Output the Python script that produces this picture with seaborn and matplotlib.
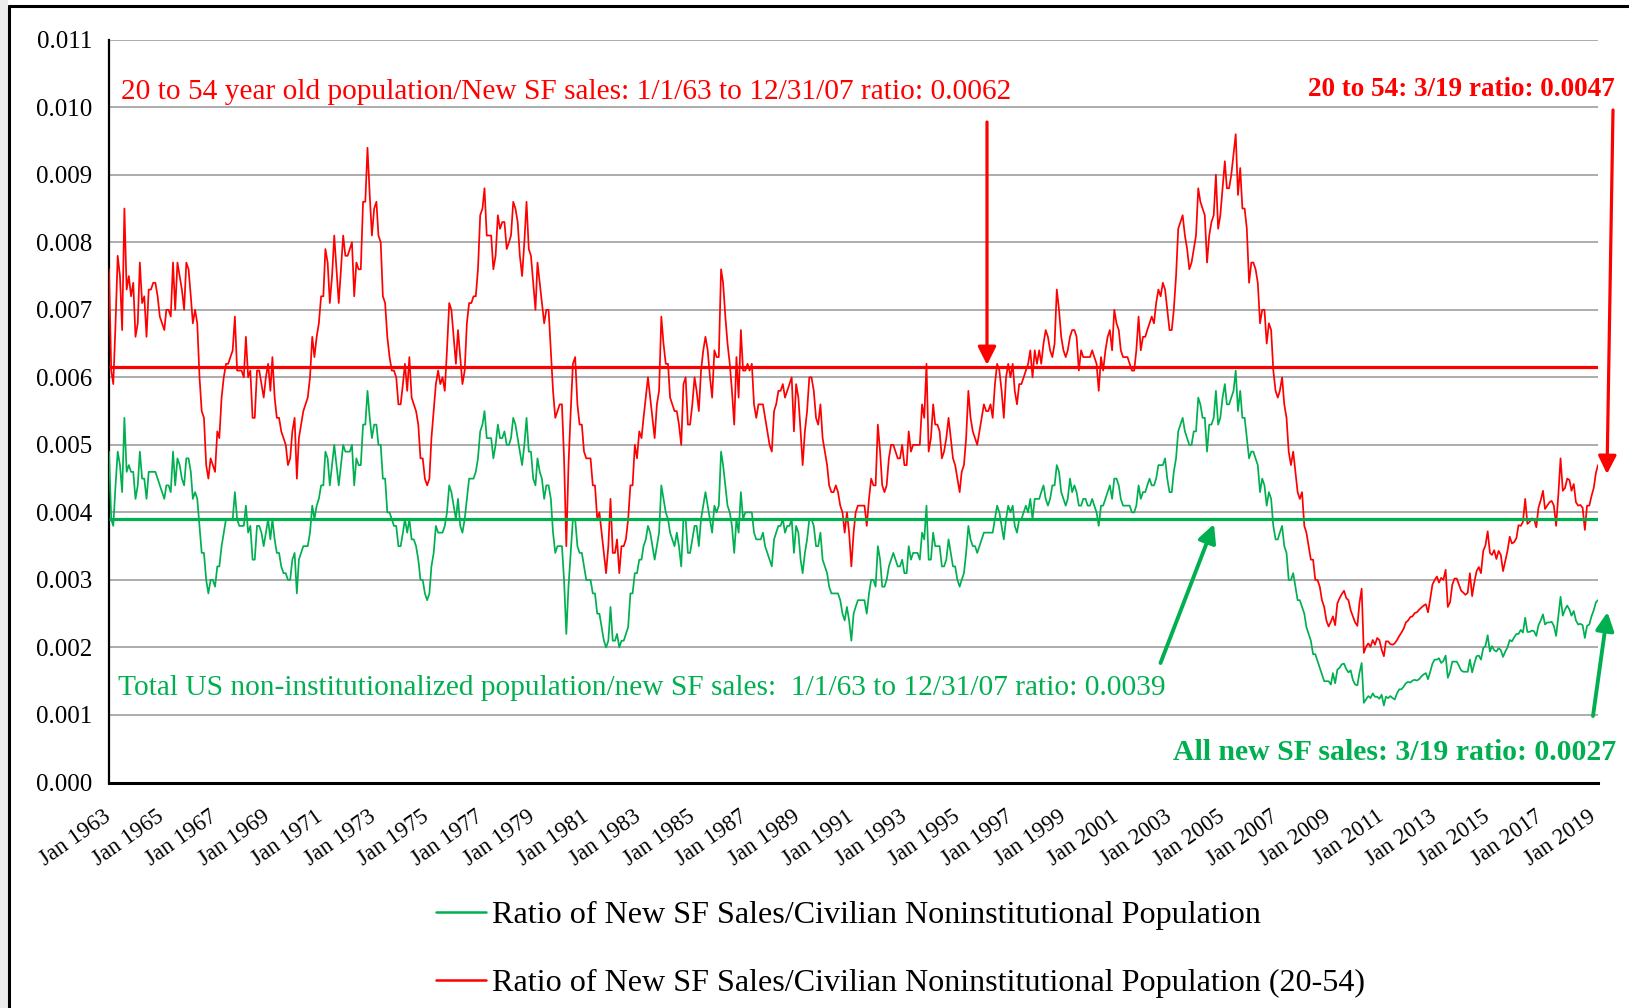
import numpy as np
import pandas as pd
import matplotlib
matplotlib.use("Agg")
import matplotlib.pyplot as plt
from matplotlib.lines import Line2D
from matplotlib.patches import Rectangle, FancyArrowPatch
import seaborn as sns

W, H, DPI = 1629, 1008, 100
RED = "#FF0000"
GREEN = "#00B050"

# Monthly ratio of new single-family sales to population, in units of 0.0001,
# January 1963 through March 2019 (one row per year).
red_e4 = [
    76, 61, 59, 68, 78, 75, 67, 85, 73, 75, 72, 74,   # 1963
    66, 68, 77, 71, 72, 66, 73, 73, 74, 74, 72, 69,   # 1964
    68, 67, 70, 70, 69, 77, 70, 77, 75, 73, 70, 77,   # 1965
    76, 72, 68, 70, 68, 60, 55, 54, 47, 45, 48, 47,   # 1966
    46, 52, 51, 57, 60, 62, 62, 63, 64, 69, 61, 61,   # 1967
    61, 60, 66, 60, 61, 54, 54, 61, 61, 59, 57, 60,   # 1968
    62, 58, 63, 57, 54, 54, 52, 51, 50, 47, 48, 52,   # 1969
    54, 45, 51, 53, 55, 56, 57, 60, 66, 63, 66, 68,   # 1970
    72, 72, 79, 77, 71, 75, 81, 76, 71, 76, 81, 78,   # 1971
    78, 79, 80, 72, 77, 76, 76, 86, 86, 94, 87, 81,   # 1972
    85, 86, 81, 80, 72, 71, 66, 63, 61, 61, 60, 56,   # 1973
    56, 59, 62, 58, 63, 57, 56, 55, 53, 48, 48, 45,   # 1974
    44, 45, 51, 55, 59, 61, 59, 60, 58, 64, 71, 70,   # 1975
    66, 62, 67, 63, 59, 61, 68, 71, 71, 72, 72, 76,   # 1976
    84, 85, 88, 81, 81, 81, 76, 78, 84, 82, 83, 83,   # 1977
    79, 80, 81, 86, 85, 83, 78, 75, 80, 86, 79, 78,   # 1978
    74, 70, 77, 74, 71, 68, 70, 70, 64, 58, 54, 55,   # 1979
    56, 56, 48, 35, 47, 55, 62, 63, 56, 53, 53, 49,   # 1980
    48, 48, 48, 44, 44, 39, 40, 37, 34, 31, 35, 42,   # 1981
    34, 34, 36, 31, 35, 35, 36, 39, 44, 44, 50, 48,   # 1982
    52, 51, 54, 57, 60, 57, 54, 51, 56, 58, 69, 65,   # 1983
    62, 62, 57, 56, 55, 55, 53, 50, 59, 60, 53, 53,   # 1984
    56, 60, 58, 55, 61, 64, 66, 64, 60, 57, 64, 63,   # 1985
    63, 76, 74, 69, 65, 62, 58, 53, 63, 57, 67, 61,   # 1986
    61, 62, 61, 62, 56, 54, 56, 56, 56, 54, 52, 50,   # 1987
    49, 55, 56, 58, 58, 59, 57, 58, 59, 60, 52, 59,   # 1988
    57, 52, 47, 52, 55, 60, 60, 58, 54, 53, 56, 51,   # 1989
    49, 47, 44, 43, 43, 44, 43, 41, 40, 37, 40, 37,   # 1990
    32, 37, 40, 41, 41, 41, 41, 38, 42, 45, 44, 44,   # 1991
    53, 49, 44, 43, 44, 48, 50, 50, 49, 48, 48, 50,   # 1992
    47, 47, 52, 49, 50, 50, 50, 50, 56, 54, 62, 49,   # 1993
    51, 56, 53, 53, 52, 48, 49, 51, 54, 51, 48, 47,   # 1994
    45, 43, 46, 47, 51, 58, 54, 52, 51, 50, 52, 54,   # 1995
    56, 55, 55, 56, 54, 59, 62, 61, 58, 54, 60, 62,   # 1996
    60, 62, 58, 56, 59, 59, 60, 61, 62, 64, 60, 64,   # 1997
    62, 64, 62, 65, 67, 66, 64, 63, 65, 73, 70, 66,   # 1998
    64, 63, 64, 66, 67, 67, 66, 61, 64, 63, 63, 63,   # 1999
    63, 64, 63, 62, 58, 63, 61, 64, 66, 67, 64, 70,   # 2000
    68, 67, 64, 63, 63, 63, 62, 61, 61, 64, 69, 64,   # 2001
    66, 66, 67, 68, 69, 68, 71, 73, 72, 74, 73, 70,   # 2002
    67, 67, 70, 75, 82, 83, 84, 81, 79, 76, 77, 79,   # 2003
    81, 88, 86, 85, 84, 77, 81, 83, 84, 90, 82, 84,   # 2004
    88, 92, 88, 88, 90, 93, 96, 87, 91, 85, 85, 82,   # 2005
    74, 77, 77, 76, 74, 68, 70, 70, 65, 68, 67, 61,   # 2006
    58, 57, 58, 60, 56, 54, 49, 47, 49, 46, 43, 42,   # 2007
    43, 38, 37, 35, 33, 33, 30, 30, 29, 27, 26, 24,   # 2008
    23.1, 23.8, 24.6, 23.3, 26.5, 27.3, 27.9, 28.4, 27.3, 27.0, 25.5, 24.6,   # 2009
    23.7, 23.2, 26.5, 28.7, 19.2, 20.1, 20.6, 20.1, 21.1, 20.4, 21.4, 21.1,   # 2010
    19.7, 18.7, 20.9, 20.9, 20.5, 20.4, 20.6, 21.1, 21.7, 22.2, 22.8, 23.7,   # 2011
    24.0, 24.5, 24.6, 25.1, 25.2, 25.6, 25.9, 26.2, 26.4, 25.2, 27.2, 29.3,   # 2012
    30.0, 30.5, 29.6, 30.3, 30.0, 31.5, 26.0, 26.7, 29.3, 30.2, 30.2, 29.3,   # 2013
    28.4, 28.1, 27.8, 28.1, 31.0, 27.6, 29.6, 31.3, 31.9, 31.0, 34.3, 35.1,   # 2014
    37.2, 34.0, 33.7, 34.4, 33.1, 34.3, 33.7, 31.3, 32.8, 34.3, 36.4, 35.4,   # 2015
    35.6, 36.2, 38.1, 38.0, 38.6, 42.0, 38.3, 38.6, 39.1, 39.0, 37.8, 40.7,   # 2016
    41.8, 43.2, 40.5, 41.0, 41.5, 41.7, 41.0, 38.0, 42.7, 48.0, 43.2, 43.6,   # 2017
    45.0, 44.8, 43.2, 44.2, 41.5, 41.0, 41.1, 40.7, 37.4, 41.0, 41.0, 42.4,   # 2018
    43.6, 45.9, 47.0,                                                         # 2019
]

green_e4 = [
    49, 39, 38, 44, 49, 47, 43, 54, 46, 47, 46, 46,   # 1963
    42, 44, 49, 45, 45, 42, 46, 46, 46, 46, 45, 44,   # 1964
    43, 42, 44, 44, 43, 49, 44, 48, 47, 45, 44, 48,   # 1965
    48, 46, 42, 43, 42, 38, 34, 34, 30, 28, 30, 30,   # 1966
    29, 32, 32, 35, 37, 39, 39, 39, 39, 43, 39, 38,   # 1967
    38, 38, 41, 37, 38, 33, 33, 38, 38, 37, 35, 37,   # 1968
    39, 36, 39, 36, 34, 34, 32, 31, 31, 30, 30, 33,   # 1969
    34, 28, 33, 34, 35, 35, 35, 37, 41, 39, 41, 42,   # 1970
    44, 44, 49, 48, 44, 47, 50, 47, 44, 47, 50, 49,   # 1971
    49, 49, 50, 44, 48, 47, 47, 53, 53, 58, 54, 51,   # 1972
    53, 53, 50, 50, 45, 45, 40, 40, 39, 38, 38, 35,   # 1973
    35, 37, 39, 37, 39, 36, 36, 35, 33, 30, 30, 28,   # 1974
    27, 28, 32, 34, 38, 37, 37, 37, 38, 40, 44, 43,   # 1975
    41, 39, 42, 38, 37, 39, 42, 45, 45, 45, 46, 48,   # 1976
    52, 53, 55, 51, 51, 51, 48, 50, 53, 51, 51, 52,   # 1977
    50, 50, 51, 54, 53, 51, 49, 47, 50, 54, 49, 49,   # 1978
    45, 44, 48, 46, 45, 42, 44, 44, 42, 37, 34, 35,   # 1979
    35, 35, 30, 22, 29, 34, 39, 39, 35, 34, 34, 32,   # 1980
    30, 30, 30, 28, 28, 25, 25, 23, 21, 20, 21, 26,   # 1981
    21, 21, 22, 20, 21, 21, 22, 23, 28, 28, 31, 31,   # 1982
    33, 33, 35, 36, 38, 37, 35, 33, 35, 37, 44, 42,   # 1983
    40, 39, 37, 36, 35, 37, 35, 32, 39, 39, 34, 34,   # 1984
    36, 38, 38, 35, 39, 41, 43, 41, 39, 37, 41, 40,   # 1985
    41, 49, 47, 44, 41, 40, 38, 34, 39, 37, 43, 39,   # 1986
    40, 40, 40, 40, 37, 36, 36, 36, 37, 35, 34, 33,   # 1987
    32, 36, 37, 38, 38, 39, 37, 38, 38, 39, 34, 38,   # 1988
    37, 33, 31, 34, 36, 39, 39, 38, 35, 35, 37, 33,   # 1989
    32, 31, 29, 28, 28, 28, 28, 27, 25, 24, 26, 24,   # 1990
    21, 25, 26, 27, 27, 27, 27, 25, 28, 30, 30, 29,   # 1991
    35, 33, 29, 29, 30, 32, 33, 34, 33, 32, 32, 33,   # 1992
    31, 31, 35, 33, 34, 34, 34, 33, 37, 36, 41, 33,   # 1993
    33, 37, 35, 35, 35, 32, 32, 33, 36, 34, 32, 32,   # 1994
    30, 29, 30, 31, 34, 38, 36, 35, 35, 34, 35, 36,   # 1995
    37, 37, 37, 37, 37, 39, 41, 40, 38, 36, 39, 41,   # 1996
    40, 41, 38, 37, 39, 39, 40, 41, 40, 42, 39, 42,   # 1997
    42, 42, 43, 44, 42, 41, 42, 44, 44, 47, 46, 43,   # 1998
    42, 41, 42, 45, 43, 44, 43, 41, 41, 42, 42, 41,   # 1999
    41, 42, 41, 40, 38, 41, 41, 42, 43, 44, 42, 45,   # 2000
    45, 44, 42, 41, 41, 41, 41, 40, 40, 41, 44, 42,   # 2001
    43, 43, 44, 45, 44, 44, 45, 47, 47, 47, 48, 45,   # 2002
    43, 43, 46, 48, 52, 53, 54, 52, 51, 50, 50, 52,   # 2003
    52, 57, 56, 54, 54, 49, 53, 53, 54, 58, 53, 54,   # 2004
    57, 59, 56, 56, 57, 58, 61, 55, 58, 54, 54, 51,   # 2005
    48, 49, 49, 48, 47, 43, 45, 44, 41, 43, 42, 38,   # 2006
    36, 36, 37, 38, 35, 34, 30, 30, 31, 29, 27, 27,   # 2007
    26, 25, 23, 22, 21, 19, 19, 18, 17, 16, 15, 15,   # 2008
    15.0, 14.5, 16.2, 14.7, 16.7, 17.0, 17.5, 17.6, 16.8, 16.3, 16.6, 15.2,   # 2009
    14.5, 14.4, 16.2, 17.7, 11.8, 12.3, 12.8, 12.5, 13.2, 12.7, 12.7, 12.4,   # 2010
    13.0, 11.4, 12.7, 12.5, 12.8, 12.5, 12.3, 13.2, 13.8, 13.8, 14.2, 14.7,   # 2011
    14.9, 14.8, 15.1, 15.2, 15.1, 15.3, 15.7, 16.0, 16.2, 15.3, 16.4, 17.6,   # 2012
    18.2, 18.2, 18.4, 17.7, 18.0, 18.8, 15.5, 16.4, 17.9, 17.9, 17.9, 17.3,   # 2013
    16.6, 16.4, 16.4, 16.4, 18.2, 16.3, 17.6, 18.7, 18.8, 18.2, 19.9, 20.2,   # 2014
    21.8, 19.4, 20.2, 19.6, 19.4, 19.9, 19.6, 18.6, 19.4, 20.0, 21.1, 20.9,   # 2015
    21.5, 22.0, 22.0, 22.6, 22.2, 24.4, 22.3, 22.3, 22.5, 22.4, 21.7, 23.3,   # 2016
    24.0, 24.9, 23.4, 23.7, 23.7, 23.8, 23.2, 21.7, 24.6, 27.5, 24.7, 25.6,   # 2017
    26.2, 25.6, 24.7, 25.4, 24.0, 23.4, 23.5, 23.3, 21.4, 23.2, 23.4, 24.6,   # 2018
    25.5, 26.7, 27.0,                                                         # 2019
]

# Long-run averages (1/1/63 to 12/31/07)
red_avg = 0.00616
green_avg = 0.0039

label_green = "Ratio of New SF Sales/Civilian Noninstitutional Population"
label_red = "Ratio of New SF Sales/Civilian Noninstitutional Population (20-54)"
tick_years = list(range(1963, 2020, 2))
tick_labels = [f"Jan {y}" for y in tick_years]

red = np.array(red_e4, dtype=float) * 1e-4
green = np.array(green_e4, dtype=float) * 1e-4
dates = pd.date_range("1963-01-01", periods=len(red), freq="MS")

df = pd.DataFrame({
    "date": np.concatenate([dates, dates]),
    "ratio": np.concatenate([green, red]),
    "series": [label_green] * len(dates) + [label_red] * len(dates),
})

sns.set_theme(style="white")
plt.rcParams["font.family"] = ["Liberation Serif", "DejaVu Serif"]
plt.rcParams["text.color"] = "black"
plt.rcParams["axes.labelcolor"] = "black"
plt.rcParams["xtick.color"] = "black"
plt.rcParams["ytick.color"] = "black"


def fx(px):
    return px / W


def fy(py):
    return 1 - py / H


fig = plt.figure(figsize=(W / DPI, H / DPI), dpi=DPI)
fig.patch.set_facecolor("white")

# page edge shading and chart frame
fig.add_artist(Rectangle((0, 0), fx(8), 1, transform=fig.transFigure,
                         facecolor="#ECECEC", edgecolor="none", zorder=0))
fig.add_artist(Line2D([fx(9), 1], [fy(6), fy(6)], transform=fig.transFigure,
                      color="black", lw=2.2))
fig.add_artist(Line2D([fx(9), fx(9)], [0, fy(6)], transform=fig.transFigure,
                      color="black", lw=2.2))

ax = fig.add_axes([fx(109), fy(782.5), (1598 - 109) / W, (782.5 - 39.7) / H])
ax.set_facecolor("white")

sns.lineplot(data=df, x="date", y="ratio", hue="series",
             palette={label_green: GREEN, label_red: RED},
             linewidth=1.25, legend=False, estimator=None, ax=ax, zorder=4)

ax.hlines(green_avg, dates[0], dates[-1], colors=GREEN, lw=2.3, zorder=5)
ax.hlines(red_avg, dates[0], dates[-1], colors=RED, lw=2.3, zorder=5)

ax.set_xlim(dates[0], dates[-1])
ax.set_ylim(0, 0.011)
yticks = np.round(np.arange(0, 0.0111, 0.001), 3)
ax.set_yticks(yticks)
ax.set_yticklabels([f"{v:.3f}" for v in yticks], fontsize=18, color="black")
ax.set_xticks(pd.to_datetime([f"{y}-01-01" for y in tick_years]))
ax.set_xticklabels(tick_labels, fontsize=16.5, rotation=35, color="black",
                   ha="right", va="center", rotation_mode="anchor")
ax.set_xlabel("")
ax.set_ylabel("")

ax.grid(axis="y", color="#A6A6A6", lw=1.3)
ax.grid(axis="x", visible=False)
ax.set_axisbelow(True)
for s in ("top", "right"):
    ax.spines[s].set_visible(False)
ax.spines["left"].set_color("black")
ax.spines["left"].set_linewidth(1.6)
ax.spines["bottom"].set_color("black")
ax.spines["bottom"].set_linewidth(2.2)
ax.spines["bottom"].set_zorder(6)
ax.tick_params(axis="both", direction="out", length=6, width=1.5,
               color="black", labelcolor="black")
ax.tick_params(axis="y", pad=6)
ax.tick_params(axis="x", pad=17)

# annotations
fig.text(fx(121), fy(99),
         f"20 to 54 year old population/New SF sales: 1/1/63 to 12/31/07 ratio: {red_avg:.4f}",
         color=RED, fontsize=21.2, ha="left", va="baseline")
fig.text(fx(1615), fy(96), f"20 to 54: 3/19 ratio: {red[-1]:.4f}",
         color=RED, fontsize=19.5, fontweight="bold", ha="right", va="baseline")
fig.text(fx(118), fy(695),
         f"Total US non-institutionalized population/new SF sales:  1/1/63 to 12/31/07 ratio: {green_avg:.4f}",
         color=GREEN, fontsize=21.15, ha="left", va="baseline")
fig.text(fx(1616), fy(760), f"All new SF sales: 3/19 ratio: {green[-1]:.4f}",
         color=GREEN, fontsize=21.45, fontweight="bold", ha="right", va="baseline")


def arrow(tail, tip, color, lw):
    fig.add_artist(FancyArrowPatch(
        (fx(tail[0]), fy(tail[1])), (fx(tip[0]), fy(tip[1])),
        transform=fig.transFigure, arrowstyle="-|>,head_length=11,head_width=5.5",
        mutation_scale=1, color=color, lw=lw, shrinkA=0, shrinkB=0, zorder=10))


arrow((987, 122), (987, 365), RED, 2.3)
arrow((1613, 110), (1607, 474), RED, 2.3)
arrow((1160.5, 663), (1214, 524), GREEN, 2.8)
arrow((1593, 716), (1607.5, 612), GREEN, 2.8)

handles = [Line2D([], [], color=GREEN, lw=1.8), Line2D([], [], color=RED, lw=1.8)]
fig.legend(handles, [label_green, label_red], loc="upper left",
           bbox_to_anchor=(fx(436), fy(901)), frameon=False, fontsize=23.1,
           handlelength=1.55, handletextpad=0.2, labelspacing=1.2,
           borderaxespad=0, borderpad=0, labelcolor="black")

fig.savefig("out.png", dpi=DPI, facecolor="white")
